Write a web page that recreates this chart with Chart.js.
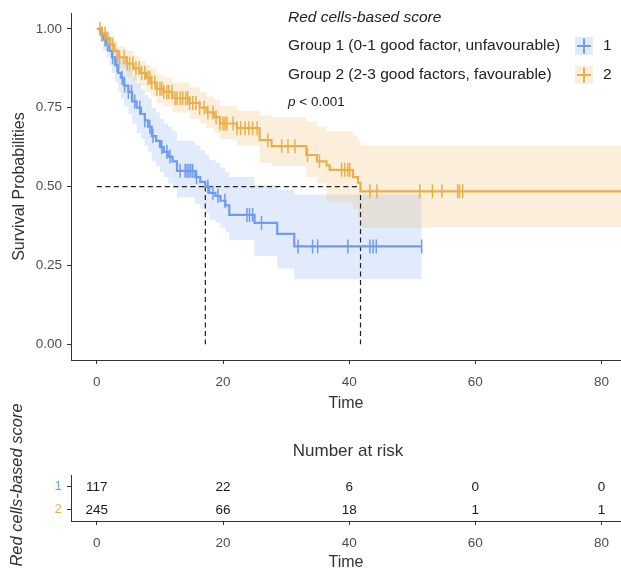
<!DOCTYPE html>
<html>
<head>
<meta charset="utf-8">
<script src="https://cdn.jsdelivr.net/npm/chart.js@4.4.1/dist/chart.umd.min.js"></script>
<style>
  body { margin: 0; background: #fff; overflow: hidden; }
  #wrap { position: relative; width: 621px; height: 571px; }
  canvas { position: absolute; left: 0; }
</style>
</head>
<body>
<div id="wrap">
  <canvas id="kmChart" style="top:0" width="621" height="430"></canvas>
  <canvas id="riskChart" style="top:395px" width="621" height="194"></canvas>
</div>
<script>
// ---- data ----
const timeTicks = [0, 20, 40, 60, 80];
const survTicks = [0, 0.25, 0.5, 0.75, 1];
const groupKeys = ['1', '2'];
const groupNames = ['Group 1 (0-1 good factor, unfavourable)', 'Group 2 (2-3 good factors, favourable)'];
const legendTitle = 'Red cells-based score';

// group 1 (unfavourable)
const g1Time  = [0, 0.5, 1.0, 1.5, 2.0, 2.4, 2.9, 3.4, 3.8, 4.3, 5.0, 5.6, 6.3, 7.0, 7.6, 8.1, 8.7, 9.4, 10.0, 10.6, 11.3, 12.0, 12.7, 15.6, 16.4, 17.2, 17.8, 18.8, 19.6, 20.4, 21.0, 25.0, 28.6, 31.3];
const g1Surv  = [1, 0.983, 0.966, 0.95, 0.93, 0.91, 0.885, 0.86, 0.845, 0.82, 0.80, 0.77, 0.75, 0.73, 0.71, 0.69, 0.66, 0.645, 0.625, 0.61, 0.595, 0.58, 0.55, 0.53, 0.515, 0.50, 0.48, 0.47, 0.455, 0.44, 0.41, 0.385, 0.35, 0.31];
const g1Upper = [1, 1, 0.99, 0.985, 0.975, 0.96, 0.94, 0.92, 0.91, 0.89, 0.87, 0.85, 0.83, 0.81, 0.79, 0.78, 0.75, 0.735, 0.715, 0.70, 0.69, 0.675, 0.645, 0.63, 0.615, 0.60, 0.585, 0.575, 0.56, 0.545, 0.53, 0.505, 0.49, 0.475];
const g1Lower = [1, 0.96, 0.93, 0.91, 0.885, 0.86, 0.83, 0.80, 0.78, 0.755, 0.73, 0.70, 0.67, 0.65, 0.63, 0.61, 0.58, 0.565, 0.545, 0.53, 0.51, 0.495, 0.465, 0.445, 0.43, 0.415, 0.395, 0.385, 0.37, 0.355, 0.33, 0.28, 0.24, 0.206];
const g1End = 51.5;
const g1Censor = [0.8, 1.3, 1.7, 2.5, 3.2, 4.0, 4.4, 5.0, 5.5, 6.0, 6.8, 7.6, 8.4, 8.9, 10.3, 11.1, 11.6, 13.2, 14.0, 14.3, 14.6, 14.9, 15.2, 15.8, 17.6, 18.4, 19.2, 20.3, 23.8, 24.2, 24.7, 26.1, 31.9, 34.2, 35.0, 39.8, 43.3, 43.8, 44.3, 51.5];

// group 2 (favourable)
const g2Time  = [0, 0.8, 1.6, 2.1, 2.8, 3.3, 4.7, 5.8, 6.8, 7.8, 8.6, 9.5, 10.6, 12.0, 14.7, 16.3, 17.4, 18.6, 19.5, 22.2, 25.8, 27.7, 33.2, 34.9, 36.4, 36.9, 40.6, 41.4, 41.8];
const g2Surv  = [1, 0.985, 0.97, 0.95, 0.93, 0.91, 0.89, 0.875, 0.86, 0.845, 0.83, 0.81, 0.80, 0.78, 0.765, 0.75, 0.735, 0.72, 0.70, 0.685, 0.647, 0.628, 0.60, 0.58, 0.567, 0.553, 0.53, 0.512, 0.485];
const g2Upper = [1, 1, 0.99, 0.975, 0.96, 0.945, 0.93, 0.915, 0.90, 0.885, 0.875, 0.855, 0.845, 0.83, 0.815, 0.80, 0.785, 0.775, 0.755, 0.74, 0.725, 0.72, 0.706, 0.69, 0.675, 0.675, 0.66, 0.645, 0.63];
const g2Lower = [1, 0.97, 0.95, 0.925, 0.90, 0.875, 0.85, 0.835, 0.82, 0.80, 0.785, 0.765, 0.755, 0.735, 0.715, 0.70, 0.685, 0.67, 0.65, 0.63, 0.575, 0.565, 0.53, 0.51, 0.455, 0.45, 0.43, 0.40, 0.37];
const g2End = 83.5;
const g2Censor = [0.5, 0.8, 1.3, 1.7, 2.5, 3.3, 3.6, 4.3, 4.8, 5.2, 5.7, 6.2, 6.7, 7.1, 7.6, 8.1, 8.4, 8.7, 9.2, 9.5, 10.0, 10.3, 10.6, 11.1, 11.4, 11.9, 12.4, 12.7, 13.2, 13.6, 14.1, 14.4, 14.7, 15.2, 15.7, 16.3, 17.0, 17.6, 18.4, 18.9, 19.5, 20.0, 20.3, 20.6, 21.6, 22.2, 22.8, 23.5, 24.1, 24.7, 25.4, 27.1, 29.3, 30.3, 31.4, 33.4, 35.3, 38.8, 39.3, 39.8, 40.1, 43.3, 44.4, 51.2, 53.2, 54.7, 57.2, 57.5, 58.0];

const medianLevel = 0.5;
const medianTimes = [17.2, 41.8];
const pValueText = '< 0.001';

const riskG1 = [117, 22, 6, 0, 0];
const riskG2 = [245, 66, 18, 1, 1];

// ---- styles ----
const FONT = '"Liberation Sans", Arial, Helvetica, sans-serif';
const colors = ['#6F9CEB', '#E9B04A'];
const bands = ['rgba(111,156,235,0.2)', 'rgba(233,176,74,0.2)'];
const axisColor = '#333333';
const tickColor = '#4D4D4D';

function stepPoints(times, vals, end) {
  const pts = times.map((t, i) => ({ x: t, y: vals[i] }));
  pts.push({ x: end, y: vals[vals.length - 1] });
  return pts;
}
function survAt(times, vals, t) {
  let v = vals[0];
  for (let i = 0; i < times.length; i++) if (times[i] <= t) v = vals[i];
  return v;
}
function censorPoints(cens, times, vals) {
  return cens.map(t => ({ x: t, y: survAt(times, vals, t) }));
}

const groups = [
  { time: g1Time, surv: g1Surv, up: g1Upper, lo: g1Lower, end: g1End, cens: g1Censor },
  { time: g2Time, surv: g2Surv, up: g2Upper, lo: g2Lower, end: g2End, cens: g2Censor }
];

const datasets = [];
groups.forEach((g, k) => {
  datasets.push({
    data: stepPoints(g.time, g.lo, g.end), stepped: true, borderColor: 'transparent',
    borderWidth: 0, pointRadius: 0, fill: false, order: 20 - k
  });
  datasets.push({
    data: stepPoints(g.time, g.up, g.end), stepped: true, borderColor: 'transparent',
    borderWidth: 0, pointRadius: 0, fill: '-1', backgroundColor: bands[k], order: 20 - k
  });
});
// median guide lines
const medMax = Math.max(...medianTimes);
datasets.push({
  data: [{ x: 0, y: medianLevel }, { x: medMax, y: medianLevel }],
  borderColor: '#222', borderWidth: 1.2, borderDash: [5, 3.5], pointRadius: 0, fill: false, order: 15
});
medianTimes.forEach(m => {
  datasets.push({
    data: [{ x: m, y: medianLevel }, { x: m, y: 0 }],
    borderColor: '#222', borderWidth: 1.2, borderDash: [5, 3.5], pointRadius: 0, fill: false, order: 15
  });
});
groups.forEach((g, k) => {
  datasets.push({
    data: stepPoints(g.time, g.surv, g.end), stepped: true, borderColor: colors[k],
    borderWidth: 2.2, pointRadius: 0, fill: false, order: 12 - k
  });
});
groups.forEach((g, k) => {
  datasets.push({
    data: censorPoints(g.cens, g.time, g.surv), showLine: false,
    pointStyle: 'line', pointRotation: 90, pointRadius: 7,
    pointBorderWidth: 1.5, pointBorderColor: colors[k], order: 6 - k
  });
});

const legendPlugin = {
  id: 'kmLegend',
  afterDraw(chart) {
    const ctx = chart.ctx;
    ctx.save();
    ctx.textBaseline = 'middle';
    ctx.textAlign = 'left';
    ctx.fillStyle = '#222';
    ctx.font = 'italic 15.5px ' + FONT;
    ctx.fillText(legendTitle, 288, 18);
    ctx.font = '15.5px ' + FONT;
    const ys = [46, 75];
    groupNames.forEach((name, k) => {
      const y = ys[k];
      ctx.fillStyle = '#222';
      ctx.fillText(name, 288, y);
      ctx.fillStyle = bands[k];
      ctx.fillRect(575, y - 9, 18, 18);
      ctx.strokeStyle = colors[k];
      ctx.lineWidth = 2;
      ctx.beginPath();
      ctx.moveTo(577, y); ctx.lineTo(591, y);
      ctx.moveTo(584, y - 7.5); ctx.lineTo(584, y + 7.5);
      ctx.stroke();
      ctx.fillStyle = '#222';
      ctx.fillText(groupKeys[k], 603, y);
    });
    ctx.font = 'italic 13.5px ' + FONT;
    ctx.fillText('p', 288, 102);
    const pw = ctx.measureText('p ').width;
    ctx.font = '13.5px ' + FONT;
    ctx.fillText(pValueText, 288 + pw, 102);
    ctx.restore();
  }
};

new Chart(document.getElementById('kmChart'), {
  type: 'line',
  data: { datasets },
  options: {
    responsive: false,
    animation: false,
    events: [],
    layout: { autoPadding: false, padding: { top: 8, right: 0, left: 0, bottom: 0 } },
    plugins: { legend: { display: false }, tooltip: { enabled: false } },
    scales: {
      x: {
        type: 'linear', min: -4.1, max: 83.1,
        afterBuildTicks: s => { s.ticks = timeTicks.map(v => ({ value: v })); },
        afterFit: s => { s.height = 70; },
        grid: { drawOnChartArea: false, drawTicks: true, tickLength: 4, tickColor: axisColor },
        border: { display: true, color: axisColor, width: 1 },
        ticks: { color: tickColor, padding: 10, font: { family: FONT, size: 13.5 }, maxRotation: 0 },
        title: { display: true, text: 'Time', color: axisColor, font: { family: FONT, size: 16 }, padding: { top: 0, bottom: 17 } }
      },
      y: {
        type: 'linear', min: -0.05, max: 1.05,
        afterBuildTicks: s => { s.ticks = survTicks.map(v => ({ value: v })); },
        afterFit: s => { s.width = 71; },
        grid: { drawOnChartArea: false, drawTicks: true, tickLength: 4, tickColor: axisColor },
        border: { display: true, color: axisColor, width: 1 },
        ticks: { color: tickColor, padding: 5, font: { family: FONT, size: 13.5 }, callback: v => v.toFixed(2) },
        title: { display: true, text: 'Survival Probabilities', color: axisColor, font: { family: FONT, size: 16 }, padding: { top: 10, bottom: 0 } }
      }
    }
  },
  plugins: [legendPlugin]
});

// ---- risk table ----
const riskData = [riskG1, riskG2];
const riskSets = riskData.map((vals, k) => ({
  data: timeTicks.map((t, i) => ({ x: t, y: groupKeys[k], n: vals[i] })),
  pointRadius: 0
}));

const riskPlugin = {
  id: 'riskText',
  afterDatasetsDraw(chart) {
    const ctx = chart.ctx;
    ctx.save();
    ctx.font = '13.5px ' + FONT;
    ctx.fillStyle = '#1a1a1a';
    ctx.textAlign = 'center';
    ctx.textBaseline = 'middle';
    chart.data.datasets.forEach((ds, di) => {
      chart.getDatasetMeta(di).data.forEach((pt, i) => {
        ctx.fillText(String(ds.data[i].n), pt.x, pt.y + 1);
      });
    });
    const ca = chart.chartArea;
    ctx.fillStyle = axisColor;
    ctx.font = '17px ' + FONT;
    ctx.fillText('Number at risk', (ca.left + ca.right) / 2 + 2, 56);
    ctx.translate(17, 90);
    ctx.rotate(-Math.PI / 2);
    ctx.font = 'italic 16.5px ' + FONT;
    ctx.fillText(legendTitle, 0, 0);
    ctx.restore();
  }
};

new Chart(document.getElementById('riskChart'), {
  type: 'scatter',
  data: { datasets: riskSets },
  options: {
    responsive: false,
    animation: false,
    events: [],
    layout: { autoPadding: false, padding: { top: 80, right: 0, left: 0, bottom: 0 } },
    plugins: { legend: { display: false }, tooltip: { enabled: false } },
    scales: {
      x: {
        type: 'linear', min: -4.1, max: 83.1,
        afterBuildTicks: s => { s.ticks = timeTicks.map(v => ({ value: v })); },
        afterFit: s => { s.height = 68; },
        grid: { drawOnChartArea: false, drawTicks: true, tickLength: 4, tickColor: axisColor },
        border: { display: true, color: axisColor, width: 1 },
        ticks: { color: tickColor, padding: 10, font: { family: FONT, size: 13.5 }, maxRotation: 0 },
        title: { display: true, text: 'Time', color: axisColor, font: { family: FONT, size: 16 }, padding: { top: 0, bottom: 17 } }
      },
      y: {
        type: 'category', labels: groupKeys, offset: true,
        afterFit: s => { s.width = 71; },
        grid: { drawOnChartArea: false, drawTicks: true, tickLength: 4, tickColor: axisColor, offset: false },
        border: { display: true, color: axisColor, width: 1 },
        ticks: { color: c => colors[c.index], padding: 5, font: { family: FONT, size: 13.5 } }
      }
    }
  },
  plugins: [riskPlugin]
});
</script>
</body>
</html>
